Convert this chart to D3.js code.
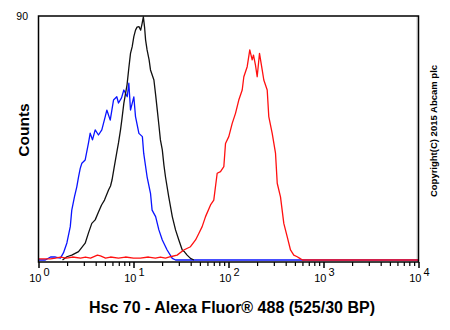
<!DOCTYPE html>
<html>
<head>
<meta charset="utf-8">
<script src="https://d3js.org/d3.v7.min.js"></script>
<style>
  body { margin: 0; background: #fff; }
  text { font-family: "Liberation Sans", Arial, sans-serif; }
</style>
</head>
<body>
<script>
    var width = 450;
    var height = 330;

    // fluorescence intensity (log axis) and counts
    var blueX = [1.0, 1.18, 1.34, 1.51, 1.70, 1.83, 1.99, 2.16, 2.24, 2.39, 2.53, 2.64, 2.75, 2.86, 3.10, 3.36, 3.50, 3.70, 3.95, 4.28, 4.64, 5.04, 5.24, 5.69, 6.16, 6.67, 6.95, 7.48, 7.91, 8.59, 8.93, 9.30, 10.08, 10.5, 11.4, 12.4, 12.8, 13.9, 15.1, 15.7, 17.1, 18.5, 20.1, 22.6, 25.6, 27.7, 10000];
    var blueY = [0, 0, 1.1, 1.1, 0.7, 2.6, 6.3, 12.3, 18.4, 23.3, 27.0, 30.7, 33.8, 35.7, 36.9, 43.2, 46.8, 44.3, 48.0, 46.1, 48.0, 52.9, 55.3, 51.6, 59.0, 60.2, 57.9, 59.8, 62.7, 60.2, 65.2, 55.3, 60.2, 52.9, 46.7, 45.5, 39.4, 30.7, 24.6, 18.4, 16.0, 11.1, 7.4, 3.7, 0.6, 0, 0];

    var blackX = [1.79, 1.99, 2.24, 2.64, 3.10, 3.36, 3.64, 3.95, 4.28, 4.61, 4.95, 5.46, 5.73, 5.94, 6.24, 6.74, 6.95, 7.30, 7.53, 7.91, 8.55, 8.93, 9.30, 9.69, 10.08, 10.5, 10.9, 11.4, 11.9, 12.3, 12.7, 13.1, 13.4, 13.9, 14.6, 15.1, 16.4, 17.1, 17.8, 18.5, 19.2, 20.1, 20.9, 21.7, 23.5, 25.6, 27.7, 30.0, 32.6, 34.4, 36.7, 39.8, 43.2];
    var blackY = [0, 1.2, 1.8, 3.1, 6.2, 10.0, 13.5, 14.8, 17.7, 20.3, 22.1, 25.8, 27.3, 29.5, 33.9, 40.6, 43.2, 48.0, 51.6, 57.8, 64.6, 70.8, 76.2, 78.7, 82.4, 84.8, 85.9, 86.1, 84.8, 87.1, 89.7, 85.6, 81.2, 77.5, 73.8, 70.1, 66.4, 60.9, 55.3, 49.8, 44.3, 40.6, 35.0, 30.7, 23.3, 16.0, 11.1, 7.4, 3.7, 3.0, 1.8, 0.6, 0];

    var redX = [1.0, 1.34, 1.51, 1.70, 1.97, 2.28, 2.77, 3.12, 3.53, 4.17, 4.49, 5.08, 5.72, 6.95, 8.22, 10.0, 11.8, 14.4, 17.0, 19.2, 21.7, 24.5, 28.8, 33.8, 39.8, 45.0, 48.7, 52.8, 57.3, 64.7, 70.0, 76.0, 82.4, 89.3, 93.0, 100.7, 109.4, 118.5, 128.3, 139.4, 145.0, 157.3, 167.5, 177.5, 183.3, 192.3, 200.4, 212.0, 226.3, 235.3, 255.5, 265.5, 288.4, 312.5, 325.8, 352.6, 382.1, 414.6, 449.5, 486.7, 528.5, 563.4, 601, 10000];
    var redY = [0.4, 0.4, 0.7, 1.1, 0.7, 1.1, 0.7, 1.1, 0.7, 1.8, 1.5, 0.7, 1.1, 0.7, 1.1, 0.7, 0.7, 1.1, 0.7, 1.1, 0.7, 1.2, 1.8, 3.7, 4.9, 7.4, 9.8, 12.3, 16.0, 20.3, 22.1, 32.0, 32.6, 34.4, 43.0, 45.5, 50.4, 54.1, 59.0, 62.7, 67.6, 71.3, 77.5, 73.8, 75.6, 71.9, 67.6, 76.2, 70.1, 66.4, 62.7, 52.9, 46.7, 39.4, 28.3, 23.3, 13.5, 8.6, 3.7, 1.8, 1.2, 0.6, 0, 0];

    var decades = [0, 1, 2, 3, 4];
    var yMax = 90;

    var plotLeft = 38.5, plotRight = 418.5, plotTop = 16, plotBottom = 262;

    var svg = d3.select("body")
    .append("svg")
    .attr("width", width)
    .attr("height", height);

    var scaleX = d3.scaleLog()
    .domain([1, 10000])
    .range([plotLeft, plotRight]);

    var scaleY = d3.scaleLinear()
    .domain([0, yMax])
    .range([260, plotTop]);

    // light inner edge on the right
    svg.append("line")
    .attr("x1", plotRight - 1.5).attr("x2", plotRight - 1.5)
    .attr("y1", plotTop).attr("y2", plotBottom)
    .attr("stroke", "#cccccc")
    .attr("stroke-width", 1);

    function series(xs, ys) {
        return xs.map(function(x, i){ return [x, ys[i]]; });
    }

    var line = d3.line()
    .x(function(d){ return scaleX(d[0]); })
    .y(function(d){ return scaleY(d[1]); });

    var curves = [
        {data: series(blueX, blueY), color: "#0a14ff"},
        {data: series(blackX, blackY), color: "#111111"},
        {data: series(redX, redY), color: "#ff1010"}
    ];

    svg.append("g")
    .selectAll("path")
    .data(curves)
    .enter()
    .append("path")
    .attr("d", function(d){ return line(d.data); })
    .attr("fill", "none")
    .attr("stroke", function(d){ return d.color; })
    .attr("stroke-width", 1.3)
    .attr("stroke-linejoin", "round");

    // frame
    svg.append("rect")
    .attr("x", plotLeft)
    .attr("y", plotTop)
    .attr("width", plotRight - plotLeft)
    .attr("height", plotBottom - plotTop)
    .attr("fill", "none")
    .attr("stroke", "#000")
    .attr("stroke-width", 1.5);

    // x ticks: decades long, 2..9 short
    var minor = [];
    for (var i = 0; i < 4; i++) {
        for (var k = 2; k < 10; k++) minor.push(k * Math.pow(10, i));
    }
    var xAxis = d3.axisBottom(scaleX)
    .tickValues(minor)
    .tickSize(4)
    .tickFormat("");
    var gx = svg.append("g")
    .attr("transform", "translate(0," + plotBottom + ")")
    .call(xAxis);
    gx.select(".domain").remove();
    gx.selectAll("line").attr("stroke-width", 1.2);

    var majorAxis = d3.axisBottom(scaleX)
    .tickValues(decades.map(function(d){ return Math.pow(10, d); }))
    .tickSize(6)
    .tickFormat("");
    var gm = svg.append("g")
    .attr("transform", "translate(0," + plotBottom + ")")
    .call(majorAxis);
    gm.select(".domain").remove();
    gm.selectAll("line").attr("stroke-width", 1.5);

    var labels = svg.append("g");
    decades.forEach(function(d){
        var px = scaleX(Math.pow(10, d));
        labels.append("text")
        .attr("x", px + 3)
        .attr("y", 282)
        .attr("text-anchor", "end")
        .style("font-size", "11px")
        .text("10");
        labels.append("text")
        .attr("x", px + 5)
        .attr("y", 276)
        .style("font-size", "11px")
        .text(d);
    });

    svg.append("text")
    .attr("x", 28)
    .attr("y", scaleY(yMax) + 4)
    .attr("text-anchor", "end")
    .style("font-size", "10.5px")
    .text("90");

    svg.append("text")
    .attr("transform", "translate(29,130) rotate(-90)")
    .attr("text-anchor", "middle")
    .style("font-size", "15.5px")
    .style("font-weight", "bold")
    .text("Counts");

    svg.append("text")
    .attr("x", 232)
    .attr("y", 312.5)
    .attr("text-anchor", "middle")
    .style("font-size", "16px")
    .style("font-weight", "bold")
    .text("Hsc 70 - Alexa Fluor\u00AE 488 (525/30 BP)");

    svg.append("text")
    .attr("transform", "translate(436.5,131) rotate(-90)")
    .attr("text-anchor", "middle")
    .style("font-size", "9.5px")
    .style("font-weight", "bold")
    .text("Copyright(C) 2015 Abcam plc");
</script>
</body>
</html>
